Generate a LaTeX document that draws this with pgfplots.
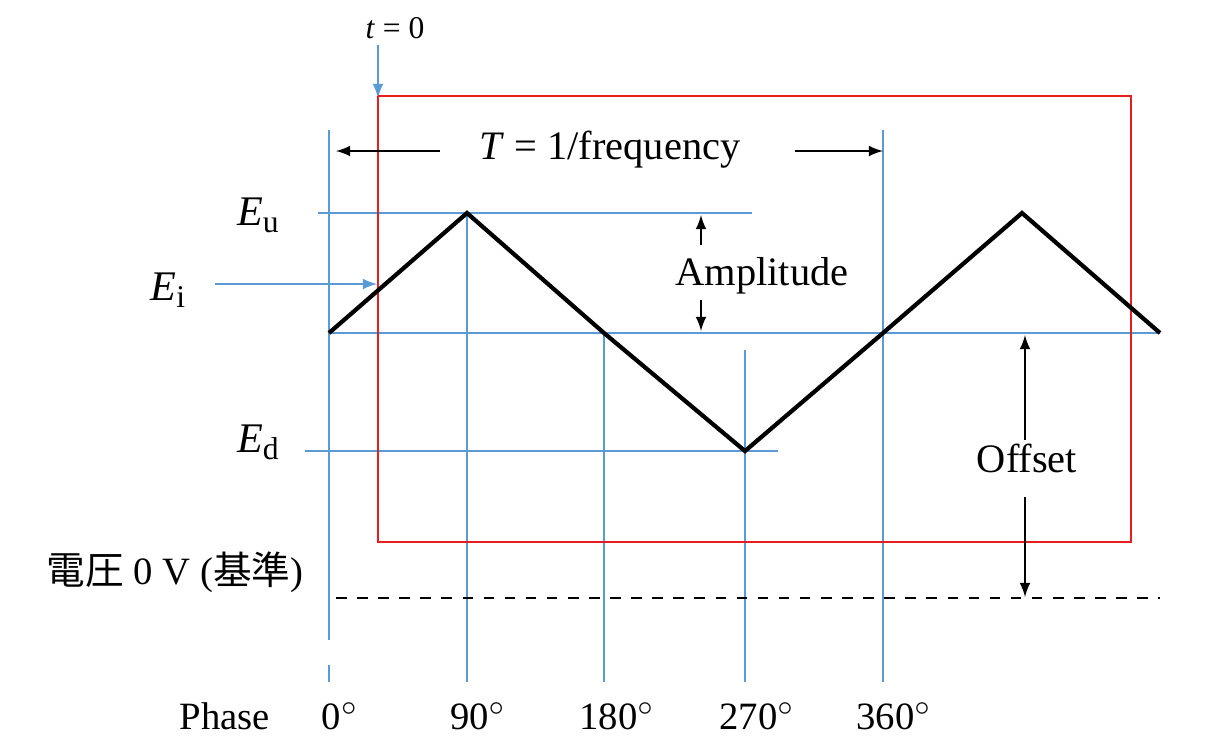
\documentclass[border=0pt]{standalone}
\usepackage{pgfplots}
\pgfplotsset{compat=1.18}
\usepackage{fontspec}
\setmainfont{Liberation Serif}
\newfontfamily\cjk{Noto Sans CJK JP}
\definecolor{bl}{RGB}{91,155,213}
\definecolor{rd}{RGB}{230,30,30}
\begin{document}
\begin{tikzpicture}
\begin{axis}[scale only axis, width=12.12cm, height=7.43cm, xmin=0, xmax=1212, ymin=0, ymax=743,
  hide axis, clip=false, y dir=reverse]
% blue guide lines
\addplot[bl, thin] coordinates {(329,130) (329,640)};
\addplot[bl, thin] coordinates {(329,665) (329,682)};
\addplot[bl, thin] coordinates {(467,213) (467,682)};
\addplot[bl, thin] coordinates {(604,333) (604,682)};
\addplot[bl, thin] coordinates {(745,350) (745,682)};
\addplot[bl, thin] coordinates {(883,130) (883,682)};
\addplot[bl, thin] coordinates {(318,213) (752,213)};
\addplot[bl, thin] coordinates {(329,333) (1160,333)};
\addplot[bl, thin] coordinates {(305,451) (778,451)};
\addplot[bl, thin, -latex] coordinates {(215,284) (377,284)};
\addplot[bl, thin, -latex] coordinates {(378,45) (378,98)};
% red box
\addplot[rd, thick] coordinates {(378,96) (1131,96) (1131,542) (378,542) (378,96)};
% triangle wave
\addplot[black, very thick] coordinates {(329,333) (467,213) (604,333) (745,451) (883,333) (1022,213) (1160,333)};
% zero line
\addplot[black, thick, dashed] coordinates {(336,598) (1160,598)};
% arrows
\addplot[black, -latex] coordinates {(440,151) (336,151)};
\addplot[black, -latex] coordinates {(795,151) (883,151)};
\addplot[black, -latex] coordinates {(701,245) (701,215)};
\addplot[black, -latex] coordinates {(701,300) (701,331)};
\addplot[black, -latex] coordinates {(1025,440) (1025,335)};
\addplot[black, -latex] coordinates {(1025,497) (1025,597)};
% text
\node[font=\fontsize{9}{10}\selectfont] at (axis cs:395,28) {\textit{t} = 0};
\node[font=\fontsize{11.5}{13}\selectfont] at (axis cs:610,150) {\textit{T} = 1/frequency};
\node[font=\fontsize{11.5}{13}\selectfont] at (axis cs:762,276) {Amplitude};
\node[font=\fontsize{11.5}{13}\selectfont] at (axis cs:1027,458) {Offset};
\node[font=\fontsize{12}{13}\selectfont] at (axis cs:258,215) {\textit{E}\raisebox{-0.35ex}{\fontsize{9}{10}\selectfont u}};
\node[font=\fontsize{12}{13}\selectfont] at (axis cs:168,290) {\textit{E}\raisebox{-0.35ex}{\fontsize{9}{10}\selectfont i}};
\node[font=\fontsize{12}{13}\selectfont] at (axis cs:258,442) {\textit{E}\raisebox{-0.35ex}{\fontsize{9}{10}\selectfont d}};
\node[font=\fontsize{11}{13}\selectfont] at (axis cs:175,572) {{\cjk 電圧} 0 V ({\cjk 基準})};
\node[font=\fontsize{11}{13}\selectfont] at (axis cs:225,716) {Phase};
\node[font=\fontsize{11}{13}\selectfont] at (axis cs:340,716) {0$^{\circ}$};
\node[font=\fontsize{11}{13}\selectfont] at (axis cs:478,716) {90$^{\circ}$};
\node[font=\fontsize{11}{13}\selectfont] at (axis cs:617,716) {180$^{\circ}$};
\node[font=\fontsize{11}{13}\selectfont] at (axis cs:757,716) {270$^{\circ}$};
\node[font=\fontsize{11}{13}\selectfont] at (axis cs:894,716) {360$^{\circ}$};
\end{axis}
\pgfresetboundingbox
\useasboundingbox (current axis.south west) rectangle (current axis.north east);
\end{tikzpicture}
\end{document}
